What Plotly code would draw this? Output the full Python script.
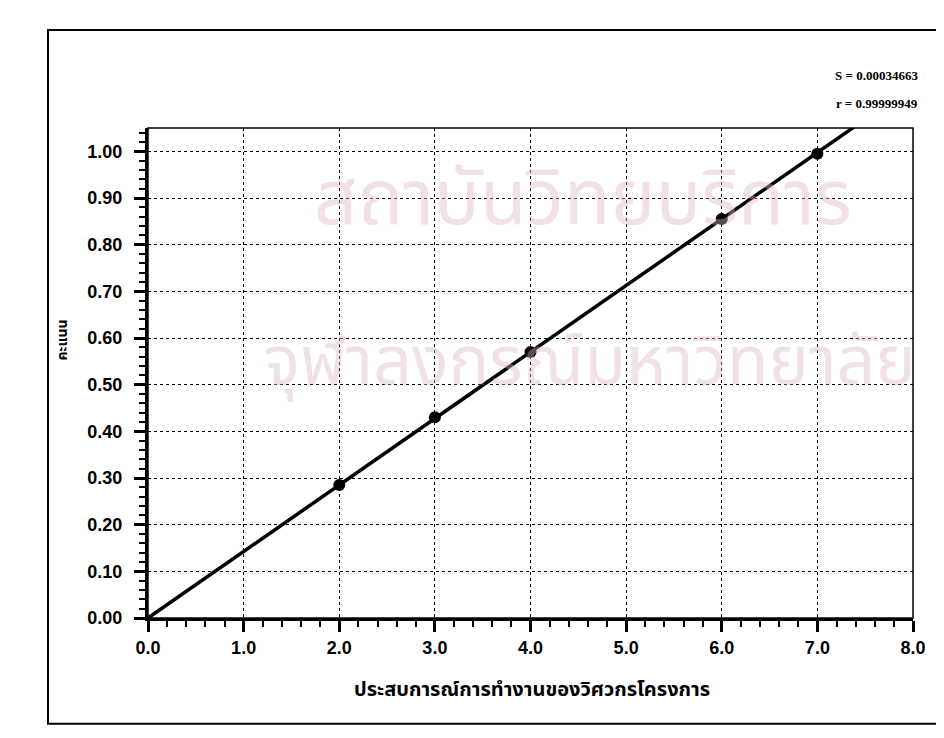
import plotly.graph_objects as go

# Data
exp_years = [2.0, 3.0, 4.0, 6.0, 7.0]
scores = [0.285, 0.43, 0.57, 0.855, 0.995]
fit_x = [0.0, 7.6]
fit_y = [0.0, 1.083]

x_tick_vals = [0, 1, 2, 3, 4, 5, 6, 7, 8]
x_tick_text = ["0.0", "1.0", "2.0", "3.0", "4.0", "5.0", "6.0", "7.0", "8.0"]
y_tick_vals = [0.0, 0.1, 0.2, 0.3, 0.4, 0.5, 0.6, 0.7, 0.8, 0.9, 1.0]
y_tick_text = ["0.00", "0.10", "0.20", "0.30", "0.40", "0.50", "0.60", "0.70", "0.80", "0.90", "1.00"]

x_title = "ประสบการณ์การทำงานของวิศวกรโครงการ"
y_title = "คะแนน"
stat_s = "S = 0.00034663"
stat_r = "r = 0.99999949"
watermark_1 = "สถาบันวิทยบริการ"
watermark_2 = "จุฬาลงกรณ์มหาวิทยาลัย"

THAI = "Noto Sans Thai, Loma, Garuda, Tlwg Typo, Norasi, sans-serif"
WM = "rgba(222,180,200,0.42)"

fig = go.Figure()
fig.add_trace(go.Scatter(x=fit_x, y=fit_y, mode="lines",
                         line=dict(color="black", width=3.5), showlegend=False))
fig.add_trace(go.Scatter(x=exp_years, y=scores, mode="markers",
                         marker=dict(color="black", size=12), showlegend=False))

tickfont = dict(family="Liberation Sans", size=18, color="black", weight="bold")

fig.update_xaxes(range=[0, 8], tickvals=x_tick_vals, ticktext=x_tick_text,
                 showgrid=True, gridcolor="black", griddash="dot", gridwidth=1.2,
                 showline=True, linecolor="black", linewidth=3, zeroline=False,
                 ticks="outside", ticklen=11, tickwidth=2.5, tickcolor="black",
                 minor=dict(dtick=0.2, ticks="outside", ticklen=6, tickwidth=2, tickcolor="black", showgrid=False),
                 tickfont=tickfont)
fig.update_yaxes(range=[0, 1.05], tickvals=y_tick_vals, ticktext=y_tick_text,
                 showgrid=True, gridcolor="black", griddash="dot", gridwidth=1.2,
                 showline=True, linecolor="black", linewidth=3, zeroline=False,
                 ticks="outside", ticklen=11, tickwidth=2.5, tickcolor="black",
                 ticklabelstandoff=8,
                 minor=dict(dtick=0.02, ticks="outside", ticklen=6, tickwidth=2, tickcolor="black", showgrid=False),
                 tickfont=tickfont)

def note(text, x, y, font):
    return dict(text=text, xref="paper", yref="paper", x=x, y=y, showarrow=False,
                xanchor="center", yanchor="middle", font=font)

fig.update_layout(
    width=936, height=730,
    margin=dict(l=140, r=31, t=120, b=120),
    plot_bgcolor="white", paper_bgcolor="white",
    shapes=[
        dict(type="rect", xref="paper", yref="paper", x0=0, x1=1, y0=0, y1=1,
             line=dict(color="black", width=1.5), layer="above"),
        dict(type="rect", xref="paper", yref="paper", x0=-0.1307, x1=1.035, y0=-0.216, y1=1.2,
             line=dict(color="black", width=2)),
    ],
    annotations=[
        note(watermark_1, 0.569, 0.853, dict(family=THAI, size=76, color=WM)),
        note(watermark_2, 0.578, 0.52, dict(family=THAI, size=68, color=WM)),
        dict(text=stat_s, xref="paper", yref="paper", x=1.009, y=1.108, xanchor="right", yanchor="middle",
             showarrow=False, font=dict(family="Liberation Serif", size=13, color="black", weight="bold")),
        dict(text=stat_r, xref="paper", yref="paper", x=1.009, y=1.051, xanchor="right", yanchor="middle",
             showarrow=False, font=dict(family="Liberation Serif", size=13, color="black", weight="bold")),
        note(x_title, 0.502, -0.147, dict(family=THAI, size=20, color="black", weight="bold")),
        dict(text=y_title, xref="paper", yref="paper", x=-0.112, y=0.567, showarrow=False,
             xanchor="center", yanchor="middle", textangle=-90,
             font=dict(family=THAI, size=14, color="black", weight="bold")),
    ],
)

fig.write_html("out.html")
